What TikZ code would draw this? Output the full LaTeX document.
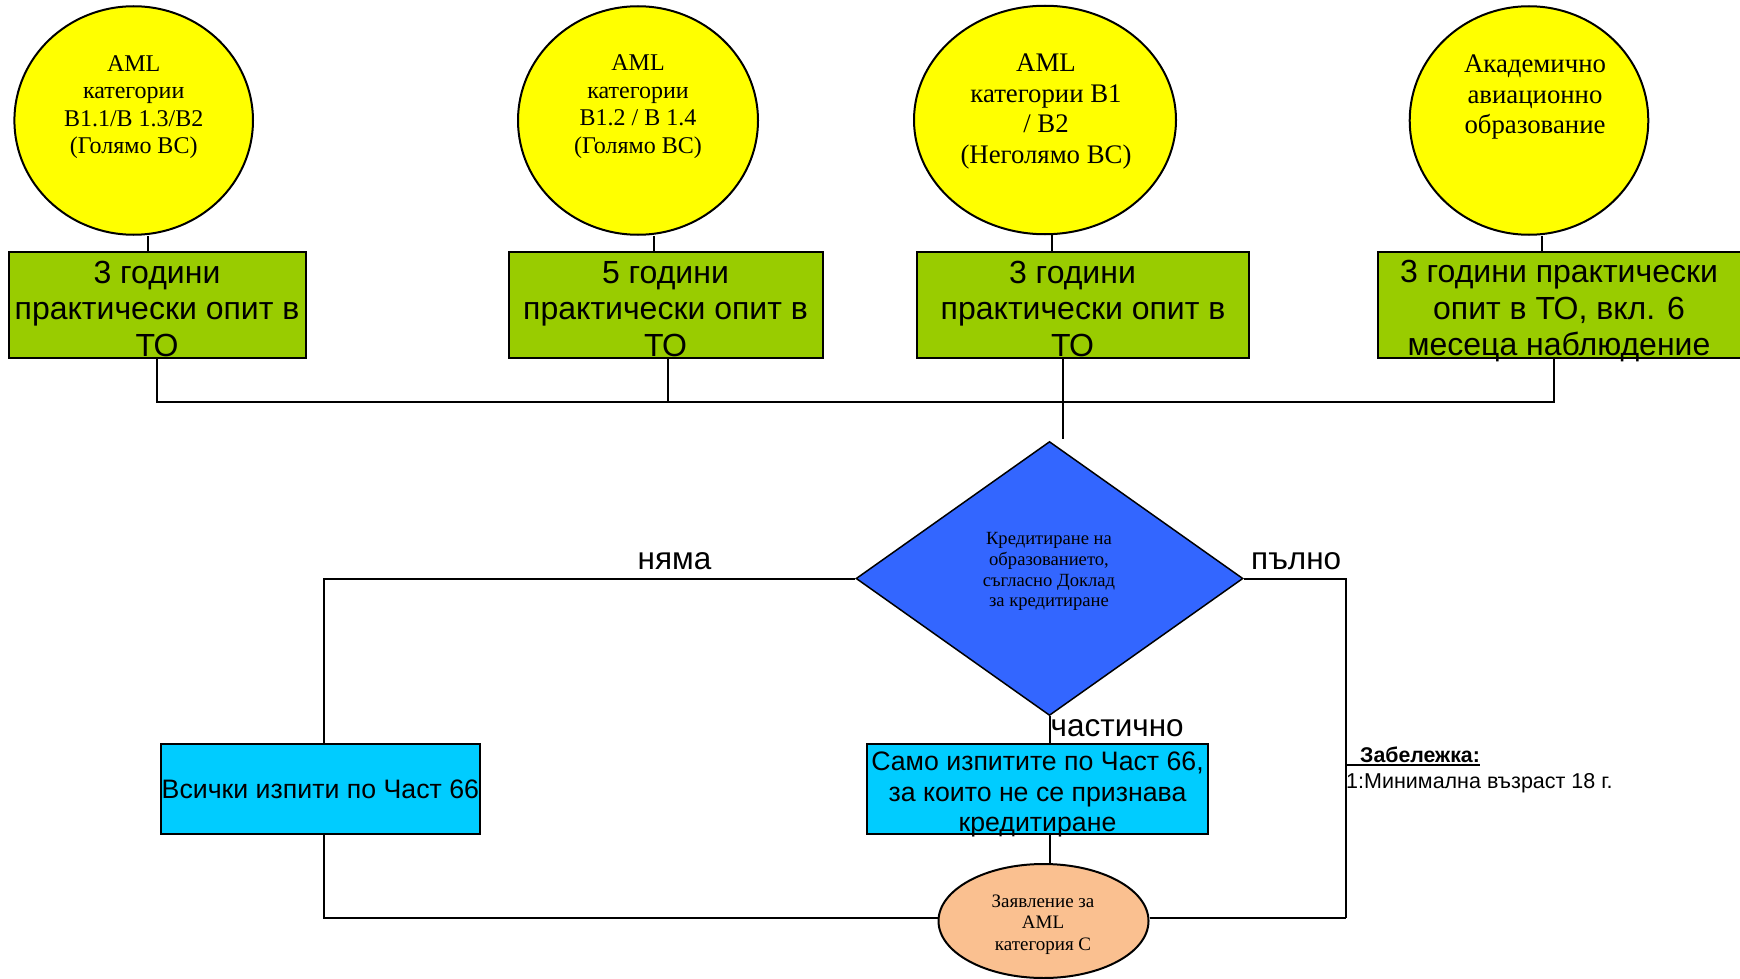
\documentclass[tikz,border=0pt]{standalone}
\usepackage{fontspec}
\setmainfont{Liberation Serif}
\newfontfamily\arialf{Liberation Sans}
\usetikzlibrary{shapes.geometric}
\definecolor{yel}{HTML}{FFFF00}
\definecolor{grn}{HTML}{99CC00}
\definecolor{dblue}{HTML}{3366FF}
\definecolor{lblue}{HTML}{00CCFF}
\definecolor{peach}{HTML}{FAC090}
\newcommand{\topstrut}[1]{\rule{0pt}{#1}}
\begin{document}
\begin{tikzpicture}[x=1pt,y=-1pt,
  conn/.style={line width=2pt},
  oval/.style={ellipse, draw, line width=2pt, fill=yel, inner sep=0pt},
  ovaltxt/.style={align=center, inner sep=0pt, font=\fontsize{24}{27.6}\selectfont},
  ovaltxtb/.style={align=center, inner sep=0pt, font=\fontsize{26.8}{30.7}\selectfont},
  greenbox/.style={rectangle, draw, line width=2pt, fill=grn, inner xsep=0pt, inner ysep=-6pt, align=center,
     minimum height=106pt, font=\arialf\fontsize{32}{36.6}\selectfont},
  bluebox/.style={rectangle, draw, line width=2pt, fill=lblue, inner xsep=0pt, inner ysep=-4pt, align=center,
     minimum height=90pt, font=\arialf\fontsize{26.7}{30.5}\selectfont},
  decision/.style={diamond, draw, line width=1.5pt, fill=dblue, inner sep=0pt,
     minimum width=387pt, minimum height=274pt},
  smalltxt/.style={align=center, inner sep=0pt, font=\fontsize{18.6}{20.7}\selectfont},
  lbl/.style={inner sep=0pt, font=\arialf\fontsize{31.5}{36}\selectfont},
  notebold/.style={inner sep=0pt, font=\arialf\bfseries\fontsize{21.3}{24}\selectfont},
  notereg/.style={inner sep=0pt, font=\arialf\fontsize{21.5}{24}\selectfont},
]
\useasboundingbox (0,0) rectangle (1740,979);

% top ellipses
\node[oval, minimum width=238.6pt, minimum height=228.5pt] (e1) at (133.7,120.5) {};
\node[oval, minimum width=240pt, minimum height=228.5pt] (e2) at (638,120.5) {};
\node[oval, minimum width=262pt, minimum height=228.5pt] (e3) at (1045,120) {};
\node[oval, minimum width=238.6pt, minimum height=228.5pt] (e4) at (1529,120.5) {};
\node[ovaltxt] (e1t) at (133.7,107.1) {AML\\категории\\B1.1/B 1.3/B2\\(Голямо ВС)};
\node[ovaltxt] (e2t) at (638,106.6) {AML\\категории\\B1.2 / B 1.4\\(Голямо ВС)};
\node[ovaltxtb] (e3t) at (1046,111.5) {AML\\категории B1\\/ B2\\(Неголямо ВС)};
\node[ovaltxtb] (e4t) at (1535,97.1) {Академично\\авиационно\\образование};

% green boxes
\node[greenbox, minimum width=297pt] (g1) at (157,305) {\topstrut{30pt}3 години\\практически опит в\\ТО};
\node[greenbox, minimum width=314pt] (g2) at (665.5,305) {\topstrut{30pt}5 години\\практически опит в\\ТО};
\node[greenbox, minimum width=332pt] (g3) at (1083,305) {\topstrut{30pt}3 години\hspace*{21pt}\\практически опит в\hspace*{21pt}\\ТО\hspace*{21pt}};
\node[greenbox, minimum width=363pt] (g4) at (1559,305) {\topstrut{34.5pt}3 години практически\\опит в ТО, вкл. 6\\месеца наблюдение};

% ellipse to box connectors
\draw[conn] ([xshift=14.5pt]e1.south) -- ([xshift=14.5pt]e1.south |- g1.north);
\draw[conn] ([xshift=16pt]e2.south) -- ([xshift=16pt]e2.south |- g2.north);
\draw[conn] ([xshift=7pt]e3.south) -- ([xshift=7pt]e3.south |- g3.north);
\draw[conn] ([xshift=13pt]e4.south) -- ([xshift=13pt]e4.south |- g4.north);

% decision
\node[decision] (d) at (1049.5,578.5) {};
\node[smalltxt] (dt) at (1049,571.8) {Кредитиране на\\образованието,\\съгласно Доклад\\за кредитиране};

% bus
\coordinate (bus) at (0,401.7);
\draw[conn] (g1.south) -- (g1.south |- bus) -- ([xshift=-5pt]g4.south |- bus) -- ([xshift=-5pt]g4.south);
\draw[conn] ([xshift=2.5pt]g2.south) -- ([xshift=2.5pt]g2.south |- bus);
\draw[conn, shorten >=2pt] ([xshift=-20.3pt]g3.south) -- ([xshift=-20.3pt]g3.south |- d.north);

% bottom boxes
\node[bluebox, minimum width=319.3pt] (b1) at (320.3,789) {Всички изпити по Част 66};
\node[bluebox, minimum width=341pt] (b2) at (1037.5,789) {\topstrut{30pt}Само изпитите по Част 66,\\за които не се признава\\кредитиране};

% application ellipse
\node[ellipse, draw, line width=2pt, fill=peach, inner sep=0pt, minimum width=210pt, minimum height=114pt] (o) at (1043.5,921) {};
\node[smalltxt, font=\fontsize{19}{21.3}\selectfont] (ot) at (1043,924.7) {Заявление за\\AML\\категория С};

% decision branches
\draw[conn] (d.west) -| ([xshift=3.4pt]b1.north);
\draw[conn] ([xshift=3.4pt]b1.south) |- ([yshift=3pt]o.west);
\draw[conn] (d.south) -- (d.south |- b2.north);
\draw[conn] (d.south |- b2.south) -- (d.south |- o.north);
\coordinate (rc) at (1346,918);
\draw[conn] (d.east) -| (rc);
\draw[conn] ([yshift=3pt]o.east) -- ([yshift=3pt]o.east -| rc);

% labels
\node[lbl] (nyama) at (674.5,561.2) {няма};
\node[lbl, anchor=west] (palno) at (1251,561.2) {пълно};
\node[lbl, anchor=west] (chast) at (1050.5,728.2) {частично};

% note
\node[notebold, anchor=base west] (zab) at (1360,762) {Забележка:};
\coordinate (ul) at ([yshift=-2.7pt]zab.base west);
\draw[line width=1.6pt] (ul -| rc) -- ([yshift=-2.7pt]zab.base east);
\node[notereg, anchor=base west] (note) at (1346,788) {1:Минимална възраст 18 г.};
\end{tikzpicture}
\end{document}
